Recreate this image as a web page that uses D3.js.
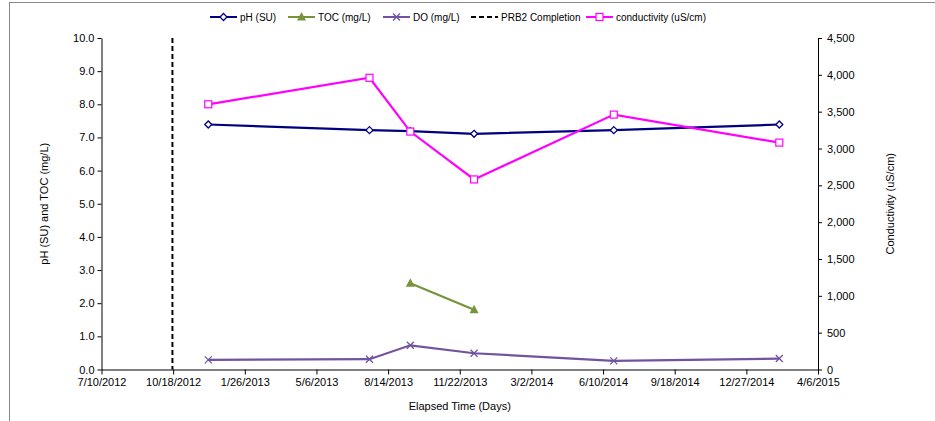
<!DOCTYPE html>
<html><head><meta charset="utf-8">
<script src="https://cdn.jsdelivr.net/npm/d3@7"></script>
<style>body{margin:0;background:#fff;font-family:"Liberation Sans",Arial,sans-serif;}</style>
</head><body><svg id="c" width="935" height="421"></svg>
<script>
const dates = ["2012-12-06","2013-07-19","2013-09-14","2013-12-12","2014-06-25","2015-02-11"];
const pH = [7.39,7.22,7.19,7.11,7.22,7.39];
const tocDates = ["2013-09-14","2013-12-12"];
const toc = [2.6,1.8];
const DO = [0.29,0.31,0.73,0.49,0.26,0.33];
const cond = [3600,3960,3230,2580,3460,3080];
const prbDate = "2012-10-17";
const xTickLabels = ["7/10/2012","10/18/2012","1/26/2013","5/6/2013","8/14/2013","11/22/2013","3/2/2014","6/10/2014","9/18/2014","12/27/2014","4/6/2015"];
const leftTicks = [0,1,2,3,4,5,6,7,8,9,10];
const rightTicks = [0,500,1000,1500,2000,2500,3000,3500,4000,4500];

const pd = s => { const [y,m,d] = s.split(/[-\/]/).map(Number); return new Date(Date.UTC(y,m-1,d)); };
const pdUS = s => { const [m,d,y] = s.split("/").map(Number); return new Date(Date.UTC(y,m-1,d)); };

const svg = d3.select("#c");
const L=101.5, R=818, T=38, B=369.5;
const x = d3.scaleUtc().domain([pdUS("7/10/2012"), pdUS("4/6/2015")]).range([L,R]);
const yL = d3.scaleLinear().domain([0,10]).range([B,T]);
const yR = d3.scaleLinear().domain([0,4500]).range([B,T]);

// outer frame
svg.append("rect").attr("x",9.5).attr("y",2.5).attr("width",940).attr("height",430)
  .attr("fill","none").attr("stroke","#888").attr("stroke-width",1);

const font = "Liberation Sans, Arial, sans-serif";
// axes
const xAxis = d3.axisBottom(x).tickValues(xTickLabels.map(pdUS)).tickFormat((d,i)=>xTickLabels[i]).tickSize(5).tickSizeOuter(0);
const gx = svg.append("g").attr("transform",`translate(0,${B})`).call(xAxis);
const yAxisL = d3.axisLeft(yL).tickValues(leftTicks).tickFormat(d3.format(".1f")).tickSize(4).tickSizeOuter(0);
const gl = svg.append("g").attr("transform",`translate(${L},0)`).call(yAxisL);
const yAxisR = d3.axisRight(yR).tickValues(rightTicks).tickFormat(d3.format(",")).tickSize(4).tickSizeOuter(0);
const gr = svg.append("g").attr("transform",`translate(${R},0)`).call(yAxisR);
[gx,gl,gr].forEach(g=>{
  g.selectAll("path,line").attr("stroke","#000").attr("stroke-width",1);
  g.selectAll("text").attr("font-family",font).attr("font-size",11).attr("fill","#000");
});
gx.selectAll("text").attr("dy","0.9em").attr("y",7);
gl.selectAll("text").attr("x",-7);
gr.selectAll("text").attr("x",9).attr("text-anchor","start");

// axis titles
svg.append("text").attr("transform",`translate(48,${(T+B)/2}) rotate(-90)`).attr("text-anchor","middle")
  .attr("font-family",font).attr("font-size",11).text("pH (SU) and TOC (mg/L)");
svg.append("text").attr("transform",`translate(894,${(T+B)/2}) rotate(-90)`).attr("text-anchor","middle")
  .attr("font-family",font).attr("font-size",11).text("Conductivity (uS/cm)");
svg.append("text").attr("x",(L+R)/2).attr("y",410).attr("text-anchor","middle")
  .attr("font-family",font).attr("font-size",11).text("Elapsed Time (Days)");

// PRB2 line
svg.append("line").attr("x1",x(pd(prbDate))).attr("x2",x(pd(prbDate))).attr("y1",T).attr("y2",B)
  .attr("stroke","#000").attr("stroke-width",2).attr("stroke-dasharray","5,3");

const cPH="#000080", cTOC="#77933C", cDO="#7153A0", cCond="#FF00FF";
function series(ds, vals, yS, color){
  const pts = ds.map((d,i)=>[x(pd(d)), yS(vals[i])]);
  svg.append("path").attr("d",d3.line()(pts)).attr("fill","none").attr("stroke",color).attr("stroke-width",2.2);
  return pts;
}
function diamond(g,cx,cy,color){ g.append("path").attr("d",`M${cx},${cy-3.5}L${cx+3.5},${cy}L${cx},${cy+3.5}L${cx-3.5},${cy}Z`).attr("fill","#fff").attr("stroke",color).attr("stroke-width",1.3); }
function square(g,cx,cy,color){ g.append("rect").attr("x",cx-3.5).attr("y",cy-3.5).attr("width",7).attr("height",7).attr("fill","#fff").attr("stroke",color).attr("stroke-width",1.2); }
function tri(g,cx,cy,color){ g.append("path").attr("d",`M${cx},${cy-5}L${cx+4.5},${cy+3.5}L${cx-4.5},${cy+3.5}Z`).attr("fill",color); }
function cross(g,cx,cy,color){ g.append("path").attr("d",`M${cx-3.5},${cy-3.5}L${cx+3.5},${cy+3.5}M${cx-3.5},${cy+3.5}L${cx+3.5},${cy-3.5}`).attr("stroke",color).attr("stroke-width",1.3); }

const pPH = series(dates,pH,yL,cPH);
const pTOC = series(tocDates,toc,yL,cTOC);
const pDO = series(dates,DO,yL,cDO);
const pC = series(dates,cond,yR,cCond);
const mg = svg.append("g");
pPH.forEach(p=>diamond(mg,p[0],p[1],cPH));
pTOC.forEach(p=>tri(mg,p[0],p[1],cTOC));
pDO.forEach(p=>cross(mg,p[0],p[1],cDO));
pC.forEach(p=>square(mg,p[0],p[1],cCond));

// legend
const leg = [
  {name:"pH (SU)", color:cPH, x:210, m:diamond},
  {name:"TOC (mg/L)", color:cTOC, x:288, m:tri},
  {name:"DO (mg/L)", color:cDO, x:383, m:cross},
  {name:"PRB2 Completion", color:"#000", x:471, m:null, dash:true},
  {name:"conductivity (uS/cm)", color:cCond, x:586, m:square}
];
const ly = 17;
leg.forEach(l=>{
  const g = svg.append("g");
  g.append("line").attr("x1",l.x).attr("x2",l.x+27).attr("y1",ly).attr("y2",ly).attr("stroke",l.color)
    .attr("stroke-width",2).attr("stroke-dasharray",l.dash?"5,3":null);
  if(l.m) l.m(g,l.x+13.5,ly,l.color);
  g.append("text").attr("x",l.x+30).attr("y",ly+3.5).attr("font-family",font).attr("font-size",10).text(l.name);
});
</script></body></html>
